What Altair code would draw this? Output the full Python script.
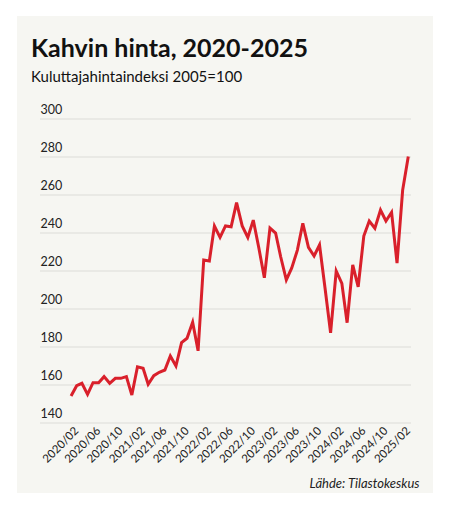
import altair as alt
import pandas as pd

# Monthly coffee consumer price index (2005=100), 2020/01 - 2025/02
months = [f"{y}-{m:02d}-01T00:00:00" for y in range(2020, 2026) for m in range(1, 13)][:62]
values = [
    154.2, 159.6, 160.9, 155.1, 161.2, 161.2, 164.4, 160.9, 163.5, 163.5, 164.4, 154.7,
    169.6, 168.8, 160.4, 164.9, 166.7, 167.9, 175.3, 170.0, 182.3, 184.6, 193.0, 178.0,
    225.8, 225.3, 243.7, 237.7, 243.7, 243.3, 256.0, 243.7, 237.7, 246.8, 232.0, 216.4,
    242.6, 240.0, 227.5, 215.3, 221.6, 231.0, 245.1, 232.4, 227.9, 233.7, 210.5, 187.4,
    220.0, 213.5, 192.8, 223.2, 211.7, 238.4, 246.3, 242.5, 252.1, 246.3, 250.9, 224.1,
    262.6, 280.2,
]
tick_dates = [f"{y}-{m:02d}-01T00:00:00" for y in range(2020, 2026) for m in (2, 6, 10)][:16]
y_ticks = [140, 160, 180, 200, 220, 240, 260, 280, 300]

df = pd.DataFrame({"kk": months, "indeksi": values})
grid_df = pd.DataFrame({"indeksi": y_ticks})

FONT = "Lato"
PANEL = "#f6f6f2"
RED = "#d9202b"

y_scale = alt.Scale(domain=[140, 300], nice=False, zero=False)

x_enc = alt.X(
    "kk:T",
    scale=alt.Scale(domain=["2019-07-14T00:00:00", "2025-02-16T00:00:00"]),
    axis=alt.Axis(
        values=tick_dates,
        format="%Y/%m",
        labelAngle=315,
        labelAlign="right",
        labelBaseline="middle",
        labelPadding=6,
        labelFont=FONT,
        labelFontSize=11.5,
        labelColor="#222",
        labelOverlap=False,
        labelBound=False,
        labelFlush=False,
        ticks=False,
        domain=False,
        grid=False,
        zindex=1,
        title="Lähde: Tilastokeskus",
        titleFont=FONT,
        titleFontStyle="italic",
        titleFontWeight="normal",
        titleFontSize=13,
        titleColor="#222",
        titleAlign="right",
        titleAnchor="end",
        titleBaseline="alphabetic",
        titleX=379,
        titleY=64,
    ),
)

y_enc = alt.Y(
    "indeksi:Q",
    scale=y_scale,
    axis=alt.Axis(
        values=y_ticks,
        labelAlign="left",
        labelBaseline="alphabetic",
        labelPadding=0,
        labelOffset=-6,
        labelFont=FONT,
        labelFontSize=12.5,
        labelColor="#222",
        labelFlush=False,
        labelBound=False,
        ticks=False,
        tickSize=0,
        domain=False,
        grid=False,
        zindex=1,
        title=None,
    ),
)

bg = alt.Chart(df).mark_rect(color=PANEL).encode(
    x=alt.value(-23), x2=alt.value(393), y=alt.value(-103), y2=alt.value(374)
)

grid = alt.Chart(grid_df).mark_rule(color="#dcdcd8", strokeWidth=1).encode(
    y=y_enc,
    x=alt.value(0),
    x2=alt.value(371),
)

line = alt.Chart(df).mark_line(color=RED, strokeWidth=3, strokeJoin="miter", strokeMiterLimit=4).encode(
    x=x_enc, y=y_enc
)

chart = (
    alt.layer(bg, grid, line)
    .properties(
        width=371,
        height=304,
        padding={"left": 32, "top": 111, "right": 30, "bottom": 78},
        autosize=alt.AutoSizeParams(type="none"),
        background="white",
        title=alt.TitleParams(
            text="Kahvin hinta, 2020-2025",
            subtitle="Kuluttajahintaindeksi 2005=100",
            anchor="start",
            frame="group",
            font=FONT,
            fontSize=25,
            fontWeight="bold",
            color="#111",
            subtitleFont=FONT,
            subtitleFontSize=15,
            subtitleColor="#111",
            subtitlePadding=8,
            offset=-69,
            dx=-9,
        ),
    )
    .configure_view(stroke=None)
)

chart.save("out.html", embed_options={"renderer": "svg", "actions": False})
